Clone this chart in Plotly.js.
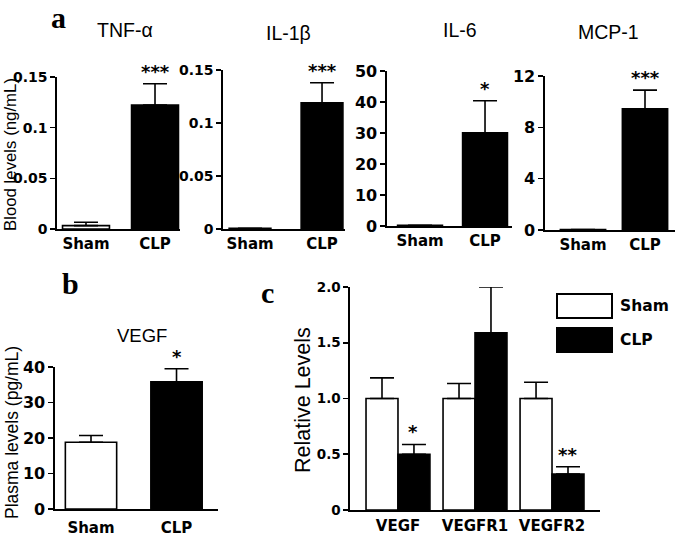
<!DOCTYPE html>
<html><head><meta charset="utf-8">
<script src="https://cdn.plot.ly/plotly-3.0.1.min.js"></script>
<style>body{margin:0;background:#fff}#chart{width:679px;height:536px}</style>
</head><body><div id="chart"></div>
<script>
// ---- data ----
const groups2 = ['Sham', 'CLP'];
const tnfMean = [0.0033, 0.1224];   const tnfSem = [0.0033, 0.021];
const il1bMean = [0.0006, 0.119];   const il1bSem = [0, 0.019];
const il6Mean = [0.2, 30.1];        const il6Sem = [0, 10.3];
const mcp1Mean = [0.03, 9.45];      const mcp1Sem = [0, 1.45];
const vegfPlasmaMean = [18.8, 35.8]; const vegfPlasmaSem = [1.9, 3.7];
const genes = ['VEGF', 'VEGFR1', 'VEGFR2'];
const shamRel = [1.0, 1.0, 1.0];    const shamRelSem = [0.185, 0.134, 0.146];
const clpRel = [0.50, 1.59, 0.322]; const clpRelSem = [0.088, 0.41, 0.066];
const sigA = ['***', '***', '*', '***'];
const sigB = '*';
const sigC = ['*', '', '**'];
const cytoNames = ['TNF-α', 'IL-1β', 'IL-6', 'MCP-1'];
const smallTickVals = [0, 0.05, 0.1, 0.15];
const smallTickText = ['0', '0.05', '0.1', '0.15'];
const cTickVals = [0, 0.5, 1.0, 1.5, 2.0];
const cTickText = ['0', '0.5', '1.0', '1.5', '2.0'];

// ---- layout helpers ----
const W = 679, H = 536;
const fx = p => p / W;
const fy = p => 1 - p / H;
const BOLDF = 'DejaVu Sans, Verdana, sans-serif';
const bold = s => ({family: BOLDF, size: s, color: '#000', weight: 'bold'});

function xAx(x0, x1, y, range, lblSize, standoff) {
  return {domain: [fx(x0), fx(x1)], anchor: y, range: range, type: 'category',
    showline: true, linewidth: 1.6, linecolor: '#000', ticks: '', showgrid: false,
    zeroline: false, tickfont: bold(lblSize), ticklabelstandoff: standoff, fixedrange: true};
}
function yAx(top, bot, x, range, fsize, extra) {
  return Object.assign({domain: [fy(bot), fy(top)], anchor: x, range: range,
    showline: true, linewidth: 1.6, linecolor: '#000', ticks: 'outside', ticklen: 5,
    tickwidth: 1.6, tickcolor: '#000', showgrid: false, zeroline: false,
    tickfont: bold(fsize), ticklabelstandoff: 0, fixedrange: true}, extra || {});
}

const colors2 = ['#ffffff', '#000000'];
function barTrace(means, sems, xa, ya, width) {
  return {type: 'bar', x: groups2, y: means, xaxis: xa, yaxis: ya, width: width,
    marker: {color: colors2, line: {color: '#000', width: 1.6}},
    error_y: {type: 'data', symmetric: false, array: sems, arrayminus: sems.map(() => 0),
      color: '#000', thickness: 1.6, width: 12},
    showlegend: false, hoverinfo: 'skip'};
}

const data = [
  barTrace(tnfMean, tnfSem, 'x', 'y', 0.68),
  barTrace(il1bMean, il1bSem, 'x2', 'y2', 0.58),
  barTrace(il6Mean, il6Sem, 'x3', 'y3', 0.69),
  barTrace(mcp1Mean, mcp1Sem, 'x4', 'y4', 0.73),
  barTrace(vegfPlasmaMean, vegfPlasmaSem, 'x5', 'y5', 0.6),
  {type: 'bar', name: 'Sham', x: genes, y: shamRel, xaxis: 'x6', yaxis: 'y6',
    marker: {color: '#fff', line: {color: '#000', width: 1.6}},
    error_y: {type: 'data', symmetric: false, array: shamRelSem, arrayminus: shamRelSem.map(() => 0),
      color: '#000', thickness: 1.6, width: 12}, showlegend: false, hoverinfo: 'skip'},
  {type: 'bar', name: 'CLP', x: genes, y: clpRel, xaxis: 'x6', yaxis: 'y6',
    marker: {color: '#000', line: {color: '#000', width: 1.6}},
    error_y: {type: 'data', symmetric: false, array: clpRelSem, arrayminus: clpRelSem.map(() => 0),
      color: '#000', thickness: 1.6, width: 12}, showlegend: false, hoverinfo: 'skip'}
];

const layout = {
  width: W, height: H, margin: {l: 0, r: 0, t: 0, b: 0},
  paper_bgcolor: '#fff', plot_bgcolor: 'rgba(0,0,0,0)',
  barmode: 'group', bargap: 0.17, bargroupgap: 0, showlegend: false,
  xaxis:  xAx(57, 180, 'y', [-0.42, 1.362], 15, 0),
  yaxis:  yAx(77, 229, 'x', [0, 0.15], 14, {tickvals: smallTickVals, ticktext: smallTickText}),
  xaxis2: xAx(223, 345, 'y2', [-0.375, 1.319], 15, 0),
  yaxis2: yAx(70, 229, 'x2', [0, 0.15], 14, {tickvals: smallTickVals, ticktext: smallTickText}),
  xaxis3: xAx(387, 512, 'y3', [-0.508, 1.415], 15, 0),
  yaxis3: yAx(71, 226, 'x3', [0, 50], 16, {dtick: 10}),
  xaxis4: xAx(545, 675, 'y4', [-0.613, 1.484], 15, 0),
  yaxis4: yAx(76, 230, 'x4', [0, 12], 16, {dtick: 4}),
  xaxis5: xAx(55, 218, 'y5', [-0.421, 1.485], 15, 4),
  yaxis5: yAx(367, 509, 'x5', [0, 40], 16, {dtick: 10}),
  xaxis6: xAx(350, 600, 'y6', [-0.623, 2.623], 15, 1),
  yaxis6: yAx(287, 510, 'x6', [0, 2.0], 13.5, {tickvals: cTickVals, ticktext: cTickText}),
  annotations: [],
  shapes: []
};

const ann = layout.annotations;
const REG = {family: 'Liberation Sans, Arial, sans-serif', color: '#000'};
const SERIF = {family: 'Liberation Serif, Times New Roman, serif', size: 30, color: '#000', weight: 'bold'};
function paperText(text, x, y, font, extra) {
  ann.push(Object.assign({text: text, x: fx(x), y: fy(y), xref: 'paper', yref: 'paper',
    xanchor: 'center', yanchor: 'middle', showarrow: false, font: font}, extra || {}));
}
// panel letters
paperText('a', 58, 0, SERIF, {yanchor: 'top', borderpad: 0});
paperText('b', 70, 283, SERIF);
paperText('c', 267, 292, SERIF);
// titles
const titleX = [125, 288, 460, 608], titleY = [30, 33, 30, 32];
cytoNames.forEach((t, i) => paperText(t, titleX[i], titleY[i], Object.assign({}, REG, {size: 19.5})));
paperText('VEGF', 142, 335, Object.assign({}, REG, {size: 18.5}));
// y labels
paperText('Blood levels (ng/mL)', 10, 155, Object.assign({}, REG, {size: 16.8}), {textangle: -90});
paperText('Plasma levels (pg/mL)', 12, 433, Object.assign({}, REG, {size: 17.5}), {textangle: -90});
paperText('Relative Levels', 303, 400, Object.assign({}, REG, {size: 21.5}), {textangle: -90});

// significance stars
const STAR = bold(18);
const aMeans = [tnfMean, il1bMean, il6Mean, mcp1Mean], aSems = [tnfSem, il1bSem, il6Sem, mcp1Sem];
sigA.forEach((s, i) => {
  const n = i === 0 ? '' : String(i + 1);
  ann.push({text: s, x: 'CLP', y: aMeans[i][1] + aSems[i][1], xref: 'x' + n, yref: 'y' + n,
    xanchor: 'center', yanchor: 'bottom', showarrow: false, font: STAR});
});
ann.push({text: sigB, x: 'CLP', y: vegfPlasmaMean[1] + vegfPlasmaSem[1], xref: 'x5', yref: 'y5',
  xanchor: 'center', yanchor: 'bottom', showarrow: false, font: STAR});
sigC.forEach((s, i) => {
  if (!s) return;
  ann.push({text: s, x: i + 0.2, y: clpRel[i] + clpRelSem[i], xref: 'x6', yref: 'y6',
    xanchor: 'center', yanchor: 'bottom', showarrow: false, font: STAR});
});

// legend for panel c
const legItems = [['Sham', '#fff', 294, 318], ['CLP', '#000', 328, 352]];
legItems.forEach(([name, col, t, b]) => {
  layout.shapes.push({type: 'rect', xref: 'paper', yref: 'paper', x0: fx(557), x1: fx(612), y0: fy(b), y1: fy(t),
    fillcolor: col, line: {color: '#000', width: 2}});
  paperText(name, 618, (t + b) / 2, bold(15.5), {xanchor: 'left'});
});

Plotly.newPlot('chart', data, layout, {displayModeBar: false, staticPlot: true});
</script>
</body></html>
